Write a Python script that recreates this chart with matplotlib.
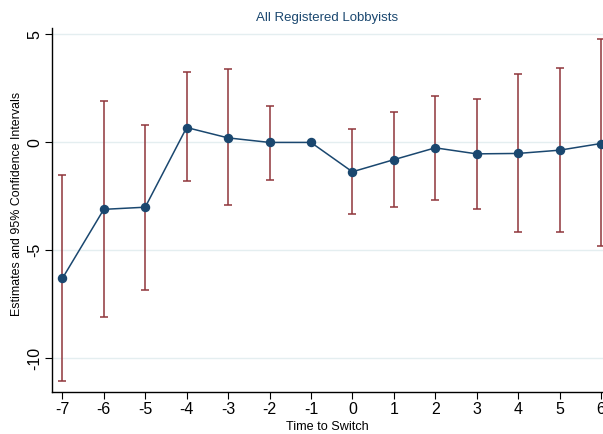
import numpy as np
import matplotlib.pyplot as plt

plt.rcParams['font.family'] = ['Liberation Sans', 'DejaVu Sans']
plt.rcParams['axes.unicode_minus'] = False

time = [-7, -6, -5, -4, -3, -2, -1, 0, 1, 2, 3, 4, 5, 6]
est = [-6.3, -3.1, -3.0, 0.69, 0.21, 0.0, 0.0, -1.36, -0.8, -0.25, -0.53, -0.51, -0.36, -0.05]
ci_low = [-11.06, -8.1, -6.85, -1.79, -2.92, -1.73, 0.0, -3.32, -3.0, -2.67, -3.07, -4.17, -4.17, -4.79]
ci_high = [-1.53, 1.94, 0.83, 3.24, 3.38, 1.71, 0.0, 0.6, 1.40, 2.16, 2.0, 3.15, 3.45, 4.77]

navy = '#1a476f'
maroon = '#90353b'

fig = plt.figure(figsize=(6.03, 4.34), dpi=100)
ax = fig.add_axes([52/603, 42/434, 551/603, 364/434])

est = np.array(est)
lo = est - np.array(ci_low)
hi = np.array(ci_high) - est
ax.errorbar(time, est, yerr=[lo, hi], fmt='none', ecolor=maroon, elinewidth=1.1,
            capsize=2.7, capthick=1.1, zorder=2)
ax.plot(time, est, color=navy, lw=1.1, marker='o', ms=5.8, mfc=navy, mec=navy, zorder=3)

ax.set_xlim(-7.25, 6.05)
ax.set_ylim(-11.56, 5.3)
ax.set_xticks(time)
ax.set_yticks([5, 0, -5, -10])
ax.grid(axis='y', color='#e4eef0', lw=1)
ax.set_axisbelow(True)
for s in ['top', 'right']:
    ax.spines[s].set_visible(False)
ax.spines['left'].set_linewidth(1)
ax.spines['bottom'].set_linewidth(1)
ax.tick_params(axis='both', direction='out', length=5, width=0.8, labelsize=11.5, pad=2)
plt.setp(ax.get_yticklabels(), rotation=90, va='center')

ax.set_xlabel('Time to Switch', fontsize=9.1, labelpad=3)
ax.set_ylabel('Estimates and 95% Confidence Intervals', fontsize=8.9)
ax.yaxis.set_label_coords(-0.053, 0.516)
ax.set_title('All Registered Lobbyists', fontsize=9.5, color=navy, pad=5)

fig.savefig('out.png', dpi=100)
